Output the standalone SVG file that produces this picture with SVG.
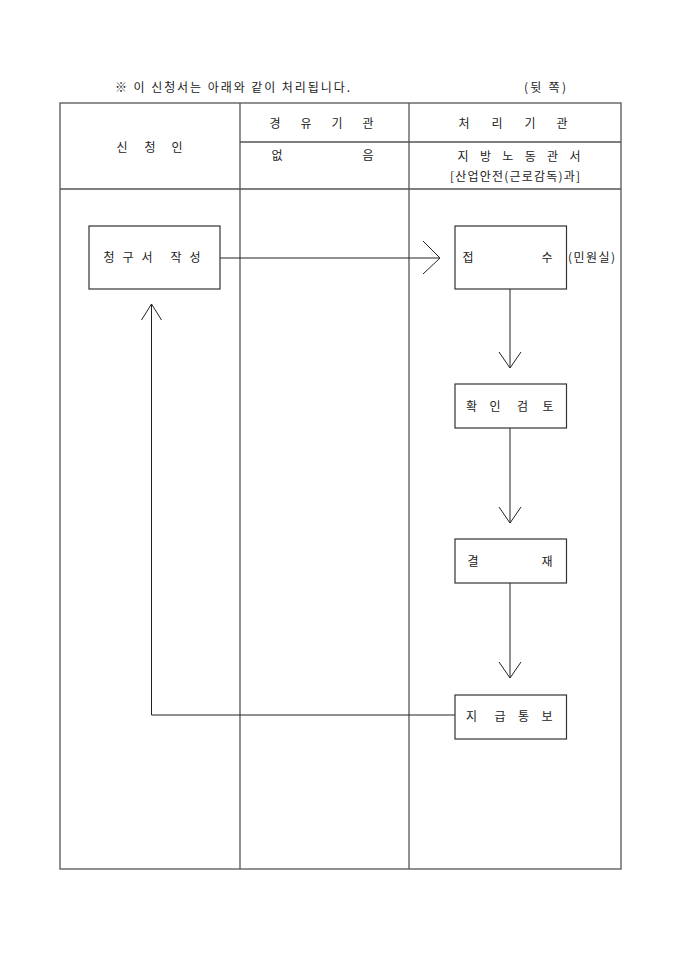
<svg xmlns="http://www.w3.org/2000/svg" width="680" height="962" viewBox="0 0 680 962">
<style>
text{font-family:"Noto Sans CJK KR","Liberation Sans",sans-serif;font-size:12px;fill:#222;}
.c{text-anchor:middle;}
.grid{stroke:#555;stroke-width:1.3;fill:none;}
.box{fill:#fff;stroke:#333;stroke-width:1.2;}
.ln{stroke:#222;stroke-width:1;fill:none;}
</style>
<rect width="680" height="962" fill="#fff"/>
<g id="title">
<text x="115" y="92" textLength="235" lengthAdjust="spacing">※ 이 신청서는 아래와 같이 처리됩니다.</text>
<text x="524" y="92" textLength="42" lengthAdjust="spacing">(뒷 쪽)</text>
</g>
<g id="table">
<rect class="grid" x="60" y="103" width="561" height="766"/>
<line class="grid" x1="240" y1="103" x2="240" y2="869"/>
<line class="grid" x1="409" y1="103" x2="409" y2="869"/>
<line class="grid" x1="240" y1="142" x2="621" y2="142"/>
<line class="grid" x1="60" y1="189" x2="621" y2="189"/>
<text class="c" x="122 136 150 163 177" y="152">신 청 인</text>
<text class="c" x="275 290 306 321 337 352 368" y="128">경 유 기 관</text>
<text class="c" x="464 480 497 513 530 546 562" y="128">처 리 기 관</text>
<text class="c" x="277 322 368" y="160">없 음</text>
<text class="c" x="463 474 485.4 496 507.8 519 530.2 541 552.6 564 575" y="161">지 방 노 동 관 서</text>
<text x="450" y="181" textLength="130" lengthAdjust="spacing">[산업안전(근로감독)과]</text>
</g>
<g id="connectors">
<polyline class="ln" points="220,258 440,258"/>
<polyline class="ln" points="423,241 440,258 423,274"/>
<polyline class="ln" points="510,289 510,368"/>
<polyline class="ln" points="499,352 510,368 521,352"/>
<polyline class="ln" points="510,428 510,523"/>
<polyline class="ln" points="499,507 510,523 521,507"/>
<polyline class="ln" points="510,583 510,678"/>
<polyline class="ln" points="499,662 510,678 521,662"/>
<polyline class="ln" points="455,715 151.5,715 151.5,304"/>
<polyline class="ln" points="141.5,320 151.5,304 161.5,320"/>
</g>
<g id="node-write">
<rect class="box" x="89" y="226" width="131" height="63"/>
<text class="c" x="109 118 128 137 147 161 176 185 195" y="262">청 구 서 작 성</text>
</g>
<g id="node-receive">
<rect class="box" x="455" y="226" width="111.5" height="63"/>
<text class="c" x="468 507 547" y="262">접 수</text>
<text x="568" y="262" textLength="47" lengthAdjust="spacing">(민원실)</text>
</g>
<g id="node-review">
<rect class="box" x="455" y="384" width="111.5" height="44"/>
<text class="c" x="471.5 483 495 509 522.5 535 548" y="411">확 인 검 토</text>
</g>
<g id="node-approve">
<rect class="box" x="455" y="539" width="111.5" height="44"/>
<text class="c" x="473 510 547" y="566">결 재</text>
</g>
<g id="node-notify">
<rect class="box" x="455" y="695" width="111.5" height="44"/>
<text class="c" x="471.5 486 500 512 523.5 535 547" y="721">지 급 통 보</text>
</g>
</svg>
